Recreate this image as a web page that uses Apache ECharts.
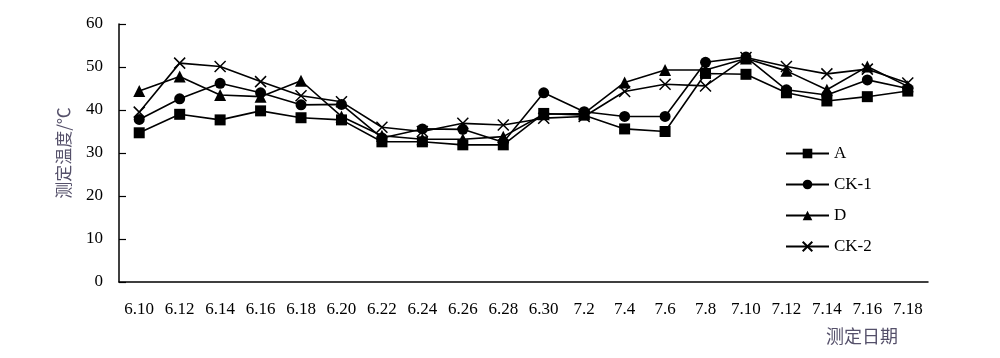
<!DOCTYPE html>
<html>
<head>
<meta charset="utf-8">
<script src="https://cdn.jsdelivr.net/npm/echarts@6/dist/echarts.min.js"></script>
<style>html,body{margin:0;padding:0;background:#fff;}#c{width:1000px;height:358px;}</style>
</head>
<body>
<div id="c"></div>
<script>
const categories = ['6.10','6.12','6.14','6.16','6.18','6.20','6.22','6.24','6.26','6.28','6.30','7.2','7.4','7.6','7.8','7.10','7.12','7.14','7.16','7.18'];
const seriesA   = [34.7, 39.0, 37.7, 39.8, 38.2, 37.7, 32.6, 32.6, 31.9, 31.9, 39.2, 38.8, 35.6, 35.0, 48.5, 48.3, 44.0, 42.1, 43.1, 44.4];
const seriesCK1 = [37.8, 42.6, 46.2, 44.0, 41.2, 41.3, 33.5, 35.6, 35.5, 32.5, 44.0, 39.6, 38.5, 38.5, 51.1, 52.3, 44.7, 43.5, 47.0, 45.0];
const seriesD   = [44.4, 47.8, 43.5, 43.1, 46.8, 38.5, 34.0, 33.2, 33.2, 33.8, 39.0, 39.2, 46.4, 49.3, 49.3, 52.0, 49.1, 44.7, 50.1, 45.5];
const seriesCK2 = [39.5, 50.9, 50.1, 46.6, 43.3, 41.9, 36.0, 35.0, 36.9, 36.5, 38.1, 38.5, 44.3, 46.0, 45.6, 52.2, 50.1, 48.4, 49.5, 46.3];
const yTicks = {min: 0, max: 60, interval: 10};

const serif = '"Liberation Serif", "Times New Roman", serif';
const cjk = '"Noto Sans CJK SC", sans-serif';

function mk(name, data, symbol, size, extra) {
  return Object.assign({
    name: name, type: 'line', data: data,
    symbol: symbol, symbolSize: size,
    showAllSymbol: true,
    lineStyle: {color: '#000', width: 1.6},
    itemStyle: {color: '#000'},
    emphasis: {disabled: true},
    animation: false
  }, extra || {});
}

const chart = echarts.init(document.getElementById('c'));
chart.setOption({
  animation: false,
  grid: {left: 119, right: 72, top: 24, bottom: 76},
  legend: {
    orient: 'vertical', left: 780, top: 140,
    itemWidth: 43, itemHeight: 12, itemGap: 14,
    textStyle: {fontFamily: serif, fontSize: 17, color: '#000'},
    data: ['A', 'CK-1', 'D', 'CK-2']
  },
  xAxis: {
    type: 'category', data: categories, boundaryGap: true,
    axisLine: {lineStyle: {color: '#000', width: 1.5}},
    axisTick: {inside: true, length: 5, lineStyle: {color: '#000', width: 1.2}},
    axisLabel: {fontFamily: serif, fontSize: 17, color: '#000', margin: 19, interval: 0}
  },
  yAxis: {
    type: 'value', min: yTicks.min, max: yTicks.max, interval: yTicks.interval,
    name: '测定温度/℃', nameLocation: 'middle', nameRotate: 90, nameGap: 47,
    nameTextStyle: {fontFamily: cjk, fontSize: 17, color: '#55506a'},
    axisLine: {show: true, lineStyle: {color: '#000', width: 1.5}},
    axisTick: {show: true, inside: true, length: 7, lineStyle: {color: '#000', width: 1.2}},
    axisLabel: {fontFamily: serif, fontSize: 17, color: '#000', margin: 16},
    splitLine: {show: false}
  },
  graphic: [{
    type: 'text', left: 826, top: 327,
    style: {text: '测定日期', font: '18px ' + cjk, fill: '#55506a'}
  }],
  series: [
    mk('A', seriesA, 'rect', 11),
    mk('CK-1', seriesCK1, 'circle', 11),
    mk('D', seriesD, 'triangle', 12),
    mk('CK-2', seriesCK2, 'path://M0,0L10,10M10,0L0,10', 11, {
      itemStyle: {color: '#000', borderColor: '#000', borderWidth: 1.5}
    })
  ]
});
</script>
</body>
</html>
